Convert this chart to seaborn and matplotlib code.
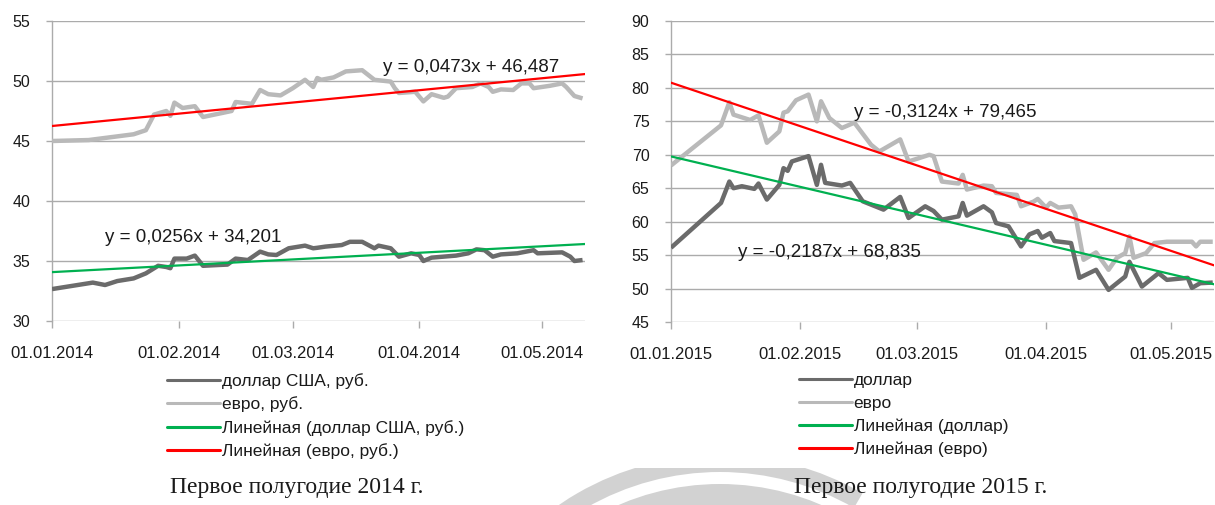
import numpy as np
import pandas as pd
import matplotlib
matplotlib.use("Agg")
import matplotlib.pyplot as plt
from matplotlib.patches import Wedge, Rectangle
import seaborn as sns

# ---------------- data: first half of 2014 ----------------
usd14_dates = ["2014-01-01", "2014-01-11", "2014-01-14", "2014-01-17", "2014-01-21", "2014-01-24",
               "2014-01-27", "2014-01-29", "2014-01-30", "2014-01-31", "2014-02-03", "2014-02-05",
               "2014-02-07", "2014-02-11", "2014-02-13", "2014-02-15", "2014-02-18", "2014-02-21",
               "2014-02-23", "2014-02-25", "2014-02-28", "2014-03-04", "2014-03-06", "2014-03-07",
               "2014-03-09", "2014-03-13", "2014-03-15", "2014-03-18", "2014-03-21", "2014-03-22",
               "2014-03-25", "2014-03-27", "2014-03-30", "2014-04-01", "2014-04-02", "2014-04-04",
               "2014-04-10", "2014-04-13", "2014-04-15", "2014-04-17", "2014-04-19", "2014-04-21",
               "2014-04-25", "2014-04-29", "2014-04-30", "2014-05-06", "2014-05-08", "2014-05-09",
               "2014-05-11"]
usd14_rates = [32.66, 33.2, 33.0, 33.33, 33.55, 33.97,
               34.6, 34.5, 34.4, 35.2, 35.2, 35.45,
               34.6, 34.67, 34.7, 35.2, 35.08, 35.78,
               35.55, 35.5, 36.06, 36.28, 36.06, 36.1,
               36.2, 36.33, 36.6, 36.6, 36.06, 36.28,
               36.06, 35.36, 35.64, 35.5, 35.0, 35.28,
               35.45, 35.64, 35.97, 35.9, 35.36, 35.55,
               35.64, 35.9, 35.64, 35.72, 35.36, 35.0,
               35.08]

eur14_dates = ["2014-01-01", "2014-01-10", "2014-01-21", "2014-01-24", "2014-01-26", "2014-01-29",
               "2014-01-30", "2014-01-31", "2014-02-02", "2014-02-05", "2014-02-07", "2014-02-14",
               "2014-02-15", "2014-02-19", "2014-02-21", "2014-02-23", "2014-02-26", "2014-03-01",
               "2014-03-04", "2014-03-06", "2014-03-07", "2014-03-08", "2014-03-11", "2014-03-14",
               "2014-03-18", "2014-03-21", "2014-03-25", "2014-03-26", "2014-03-27", "2014-03-31",
               "2014-04-02", "2014-04-04", "2014-04-07", "2014-04-08", "2014-04-10", "2014-04-14",
               "2014-04-16", "2014-04-18", "2014-04-19", "2014-04-21", "2014-04-24", "2014-04-26",
               "2014-04-28", "2014-04-29", "2014-05-03", "2014-05-06", "2014-05-07", "2014-05-09",
               "2014-05-11"]
eur14_rates = [45.0, 45.08, 45.56, 45.9, 47.2, 47.5,
               47.1, 48.2, 47.75, 47.9, 47.0, 47.5,
               48.25, 48.1, 49.25, 48.9, 48.8, 49.4,
               50.1, 49.5, 50.25, 50.1, 50.3, 50.8,
               50.9, 50.1, 49.95, 49.4, 49.0, 49.1,
               48.3, 48.9, 48.6, 48.7, 49.4, 49.5,
               49.8, 49.5, 49.1, 49.3, 49.25, 49.8,
               49.8, 49.4, 49.6, 49.8, 49.5, 48.75,
               48.55]

# ---------------- data: first half of 2015 ----------------
usd15_dates = ["2015-01-01", "2015-01-13", "2015-01-15", "2015-01-16", "2015-01-18", "2015-01-21",
               "2015-01-22", "2015-01-24", "2015-01-27", "2015-01-28", "2015-01-29", "2015-01-30",
               "2015-02-03", "2015-02-05", "2015-02-06", "2015-02-07", "2015-02-11", "2015-02-13",
               "2015-02-16", "2015-02-21", "2015-02-25", "2015-02-27", "2015-03-03", "2015-03-05",
               "2015-03-07", "2015-03-11", "2015-03-12", "2015-03-13", "2015-03-17", "2015-03-19",
               "2015-03-20", "2015-03-23", "2015-03-26", "2015-03-28", "2015-03-30", "2015-03-31",
               "2015-04-02", "2015-04-03", "2015-04-07", "2015-04-09", "2015-04-13", "2015-04-16",
               "2015-04-19", "2015-04-20", "2015-04-21", "2015-04-24", "2015-04-28", "2015-04-30",
               "2015-05-05", "2015-05-06", "2015-05-08", "2015-05-11"]
usd15_rates = [56.1, 62.8, 66.0, 65.0, 65.3, 64.9,
               65.7, 63.3, 65.5, 68.0, 67.6, 69.0,
               69.8, 65.5, 68.5, 65.8, 65.4, 65.8,
               63.05, 61.8, 63.7, 60.55, 62.3, 61.6,
               60.3, 60.8, 62.8, 60.9, 62.3, 61.4,
               59.8, 59.3, 56.3, 58.1, 58.6, 57.6,
               58.3, 57.1, 56.8, 51.6, 52.8, 49.8,
               51.3, 51.8, 54.0, 50.3, 52.3, 51.3,
               51.6, 50.1, 50.8, 50.9]

eur15_dates = ["2015-01-01", "2015-01-13", "2015-01-15", "2015-01-16", "2015-01-20", "2015-01-22",
               "2015-01-24", "2015-01-27", "2015-01-28", "2015-01-29", "2015-01-31", "2015-02-03",
               "2015-02-05", "2015-02-06", "2015-02-08", "2015-02-11", "2015-02-14", "2015-02-18",
               "2015-02-20", "2015-02-25", "2015-02-27", "2015-03-04", "2015-03-05", "2015-03-07",
               "2015-03-11", "2015-03-12", "2015-03-13", "2015-03-17", "2015-03-19", "2015-03-20",
               "2015-03-25", "2015-03-26", "2015-03-29", "2015-03-30", "2015-04-01", "2015-04-02",
               "2015-04-04", "2015-04-07", "2015-04-08", "2015-04-10", "2015-04-13", "2015-04-16",
               "2015-04-18", "2015-04-20", "2015-04-21", "2015-04-22", "2015-04-25", "2015-04-27",
               "2015-04-30", "2015-05-06", "2015-05-07", "2015-05-08", "2015-05-11"]
eur15_rates = [68.4, 74.4, 77.85, 76.0, 75.2, 75.9,
               71.8, 73.5, 76.3, 76.5, 78.15, 79.0,
               75.0, 78.0, 75.5, 74.0, 74.8, 71.5,
               70.5, 72.3, 69.0, 70.0, 69.8, 66.0,
               65.7, 67.0, 64.8, 65.4, 65.3, 64.3,
               64.0, 62.3, 63.0, 63.4, 62.1, 62.8,
               62.1, 62.3, 61.1, 54.3, 55.4, 52.8,
               54.6, 55.3, 57.8, 54.6, 55.3, 56.8,
               57.0, 57.0, 56.3, 57.0, 57.0]

# linear trend coefficients (slope, intercept) and their printed equations
usd14_trend = (0.0256, 34.201)
eur14_trend = (0.0473, 46.487)
usd15_trend = (-0.2187, 68.835)
eur15_trend = (-0.3124, 79.465)
usd14_eq = "y = 0,0256x + 34,201"
eur14_eq = "y = 0,0473x + 46,487"
usd15_eq = "y = -0,2187x + 68,835"
eur15_eq = "y = -0,3124x + 79,465"

# observation-index range covered by each horizontal axis
trend_span14 = (-5.0, 86.5)
trend_span15 = (-4.2, 83.2)

# axis ticks
yticks14 = [30, 35, 40, 45, 50, 55]
yticks15 = [45, 50, 55, 60, 65, 70, 75, 80, 85, 90]
month_ticks14 = ["2014-01-01", "2014-02-01", "2014-03-01", "2014-04-01", "2014-05-01"]
month_ticks15 = ["2015-01-01", "2015-02-01", "2015-03-01", "2015-04-01", "2015-05-01"]
month_labels14 = ["01.01.2014", "01.02.2014", "01.03.2014", "01.04.2014", "01.05.2014"]
month_labels15 = ["01.01.2015", "01.02.2015", "01.03.2015", "01.04.2015", "01.05.2015"]

legend14 = ["доллар США, руб.", "евро, руб.", "Линейная (доллар США, руб.)", "Линейная (евро, руб.)"]
legend15 = ["доллар", "евро", "Линейная (доллар)", "Линейная (евро)"]
caption14 = "Первое полугодие 2014 г."
caption15 = "Первое полугодие 2015 г."

# ---------------- styling ----------------
sns.set_theme(style="white")
plt.rcParams["font.family"] = ["Liberation Sans", "DejaVu Sans"]

W, H = 1215, 505
DPI = 100
C_USD = "#6b6b6b"
C_EUR = "#b9b9b9"
C_GREEN = "#00b050"
C_RED = "#ff0000"
C_GRID = "#ababab"
LW_DATA = 3.2
LW_TREND = 1.6
TXT = "#1a1a1a"

fig = plt.figure(figsize=(W / DPI, H / DPI), dpi=DPI, facecolor="white")


def px_rect(x0, y0, x1, y1):
    """Axes rectangle in figure fractions from pixel edges (top-left origin)."""
    return [x0 / W, 1 - y1 / H, (x1 - x0) / W, (y1 - y0) / H]


# background ornament at the bottom between the panels
inch = fig.dpi_scale_trans
cx, cy = 720 / DPI, (H - 740) / DPI
fig.patches.append(Wedge((cx, cy), 285 / DPI, 60, 180, facecolor="#d2d2d2",
                         edgecolor="none", transform=inch, zorder=-3))
fig.patches.append(Wedge((cx, cy), 268 / DPI, 60, 180, width=12 / DPI, facecolor="white",
                         edgecolor="none", transform=inch, zorder=-2))
fig.patches.append(Rectangle((620 / DPI, (H - 468) / DPI), (W - 620) / DPI, 468 / DPI,
                             facecolor="white", edgecolor="none", transform=inch, zorder=-1))


def draw_panel(rect, usd_d, usd_r, eur_d, eur_r, usd_tr, eur_tr, span, xlim_days,
               yticks, mticks, mlabels, usd_eq, eur_eq, usd_eq_xy, eur_eq_xy,
               labels, legend_xy, caption, caption_xy):
    ax = fig.add_axes(rect)
    ax.set_facecolor("none")
    usd = pd.DataFrame({"date": pd.to_datetime(usd_d), "rate": usd_r})
    eur = pd.DataFrame({"date": pd.to_datetime(eur_d), "rate": eur_r})
    x0 = pd.Timestamp(mticks[0])
    x1 = x0 + pd.Timedelta(days=xlim_days)

    sns.lineplot(data=usd, x="date", y="rate", ax=ax, color=C_USD, lw=LW_DATA,
                 solid_joinstyle="round", solid_capstyle="butt", zorder=3)
    sns.lineplot(data=eur, x="date", y="rate", ax=ax, color=C_EUR, lw=LW_DATA,
                 solid_joinstyle="round", solid_capstyle="butt", zorder=3)

    idx = np.array(span)
    for (a, b), col in ((usd_tr, C_GREEN), (eur_tr, C_RED)):
        tr = pd.DataFrame({"date": [x0, x1], "rate": a * idx + b})
        sns.lineplot(data=tr, x="date", y="rate", ax=ax, color=col, lw=LW_TREND, zorder=4)

    ax.set_xlim(x0, x1)
    ax.set_ylim(yticks[0], yticks[-1])
    ax.set_yticks(yticks)
    ax.set_yticklabels([str(v) for v in yticks])
    ax.set_xticks(pd.to_datetime(mticks))
    ax.set_xticklabels(mlabels)
    ax.set_xlabel("")
    ax.set_ylabel("")
    ax.grid(axis="y", color=C_GRID, lw=1.0, zorder=0)
    ax.grid(axis="x", visible=False)
    for s in ("top", "right", "bottom"):
        ax.spines[s].set_visible(False)
    ax.spines["left"].set_color(C_GRID)
    ax.spines["left"].set_linewidth(1.0)
    ax.tick_params(axis="y", which="major", direction="out", length=4.5, width=1.0,
                   color=C_GRID, pad=11, labelsize=11.5, labelcolor=TXT, left=True)
    ax.tick_params(axis="x", which="major", direction="out", length=5, width=1.0,
                   color=C_GRID, pad=13, labelsize=12, labelcolor=TXT, bottom=True)

    ax.text(*usd_eq_xy, usd_eq, transform=ax.transData, fontsize=13.5, color=TXT,
            ha="left", va="center", zorder=5)
    ax.text(*eur_eq_xy, eur_eq, transform=ax.transData, fontsize=13.5, color=TXT,
            ha="left", va="center", zorder=5)

    handles = [plt.Line2D([], [], color=C_USD, lw=2.2),
               plt.Line2D([], [], color=C_EUR, lw=2.2),
               plt.Line2D([], [], color=C_GREEN, lw=2.2),
               plt.Line2D([], [], color=C_RED, lw=2.2)]
    fig.legend(handles, labels, loc="upper left",
               bbox_to_anchor=(legend_xy[0] / W, 1 - legend_xy[1] / H),
               frameon=False, fontsize=12.5, handlelength=3.05, handletextpad=0.1,
               labelspacing=0.44, borderpad=0, borderaxespad=0, labelcolor=TXT)

    fig.text(caption_xy[0] / W, 1 - caption_xy[1] / H, caption, ha="center", va="center",
             fontsize=17, color=TXT, family=["Liberation Serif", "DejaVu Serif"])
    return ax


draw_panel(px_rect(52, 21, 585, 321), usd14_dates, usd14_rates, eur14_dates, eur14_rates,
           usd14_trend, eur14_trend, trend_span14, 130.6, yticks14,
           month_ticks14, month_labels14, usd14_eq, eur14_eq,
           (pd.Timestamp("2014-01-14"), 37.0), (pd.Timestamp("2014-03-23"), 51.1),
           legend14, (167, 373), caption14, (297, 488))

draw_panel(px_rect(671, 21, 1214, 322), usd15_dates, usd15_rates, eur15_dates, eur15_rates,
           usd15_trend, eur15_trend, trend_span15, 130.3, yticks15,
           month_ticks15, month_labels15, usd15_eq, eur15_eq,
           (pd.Timestamp("2015-01-17"), 55.4), (pd.Timestamp("2015-02-14"), 76.3),
           legend15, (799, 373), caption15, (921, 488))

fig.savefig("out.png", dpi=DPI, facecolor="white")
